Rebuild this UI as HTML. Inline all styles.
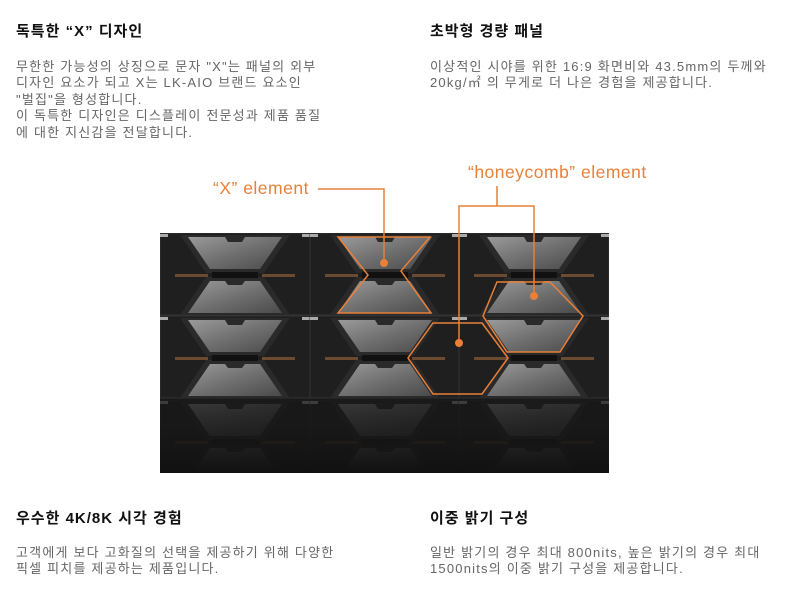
<!DOCTYPE html>
<html><head><meta charset="utf-8"><style>
body{margin:0;width:799px;height:599px;background:#fff;font-family:"Liberation Sans","Noto Sans CJK KR",sans-serif;position:relative;overflow:hidden}
.h{position:absolute;font-size:15px;font-weight:bold;color:#111;letter-spacing:1px}
.p{position:absolute;font-size:13px;color:#666;line-height:16.4px;letter-spacing:1.2px;white-space:nowrap}
.o{position:absolute;color:#e8803a;font-size:17.5px;letter-spacing:0.5px;white-space:nowrap}
</style></head><body>
<div class="h" style="left:16px;top:20px">독특한 “X” 디자인</div>
<div class="p" style="left:16px;top:59px">무한한 가능성의 상징으로 문자 "X"는 패널의 외부<br>디자인 요소가 되고 X는 LK-AIO 브랜드 요소인<br>"벌집"을 형성합니다.<br>이 독특한 디자인은 디스플레이 전문성과 제품 품질<br>에 대한 지신감을 전달합니다.</div>
<div class="h" style="left:430px;top:20px">초박형 경량 패널</div>
<div class="p" style="left:430px;top:59px">이상적인 시야를 위한 16:9 화면비와 43.5mm의 두께와<br>20kg/㎡ 의 무게로 더 나은 경험을 제공합니다.</div>
<div class="h" style="left:16px;top:507px">우수한 4K/8K 시각 경험</div>
<div class="p" style="left:16px;top:545px">고객에게 보다 고화질의 선택을 제공하기 위해 다양한<br>픽셀 피치를 제공하는 제품입니다.</div>
<div class="h" style="left:430px;top:507px">이중 밝기 구성</div>
<div class="p" style="left:430px;top:545px">일반 밝기의 경우 최대 800nits, 높은 밝기의 경우 최대<br>1500nits의 이중 밝기 구성을 제공합니다.</div>
<div class="o" style="left:213px;top:178px">“X” element</div>
<div class="o" style="left:468px;top:162px">“honeycomb” element</div>
<svg width="799" height="599" style="position:absolute;left:0;top:0">
<defs>
<clipPath id="c"><rect x="160" y="233" width="449" height="240"/></clipPath>
<linearGradient id="g" x1="0" y1="0" x2="1" y2="1"><stop offset="0" stop-color="#9a9a9a"/><stop offset="0.5" stop-color="#707070"/><stop offset="1" stop-color="#4a4a4a"/></linearGradient>
<linearGradient id="r" x1="0" y1="0" x2="0" y2="1"><stop offset="0" stop-color="#1a1a1a" stop-opacity="0.1"/><stop offset="1" stop-color="#111"/></linearGradient>
<g id="m">
<rect x="0" y="0" width="150" height="82" fill="#1f1f1f" stroke="#333" stroke-width="1"/>
<path d="M20 2 L130 2 L104 40 L46 40 Z M46 44 L104 44 L130 82 L20 82Z" fill="#2a2a2a"/>
<path d="M28 4 L65 4 L68 9 L82 9 L85 4 L122 4 L100 36 L50 36 Z" fill="url(#g)"/>
<path d="M50 48 L65 48 L68 52 L82 52 L85 48 L100 48 L122 80 L28 80 Z" fill="url(#g)"/>
<rect x="15" y="41" width="33" height="3" fill="#6a4a30"/>
<rect x="102" y="41" width="33" height="3" fill="#6a4a30"/>
<rect x="52" y="39" width="46" height="6" fill="#111"/>
<rect x="0" y="1" width="8" height="3" fill="#aaa"/><rect x="142" y="1" width="8" height="3" fill="#aaa"/>
</g>
</defs>
<g clip-path="url(#c)">
<rect x="160" y="233" width="449" height="240" fill="#151515"/>
<use href="#m" x="160" y="233"/><use href="#m" x="310" y="233"/><use href="#m" x="459" y="233"/>
<use href="#m" x="160" y="316"/><use href="#m" x="310" y="316"/><use href="#m" x="459" y="316"/>
<g opacity="0.3"><use href="#m" x="160" y="400"/><use href="#m" x="310" y="400"/><use href="#m" x="459" y="400"/></g>
<rect x="160" y="400" width="449" height="73" fill="url(#r)"/>
</g>
<g fill="none" stroke="#e8803a" stroke-width="1.5">
<path d="M338 237 L430 237 L401 271 L431 313 L338 313 L368 275 Z"/>
<path d="M497 282 L550 282 L583 316 L560 352 L507 352 L483 316 Z"/>
<path d="M433 323 L482 323 L508 358 L482 394 L433 394 L408 358 Z"/>
<path d="M318 189 L384 189 L384 263"/>
<path d="M497 186 L497 206 M459 343 L459 206 L534 206 L534 296"/>
</g>
<g fill="#e8803a"><circle cx="384" cy="263" r="4"/><circle cx="534" cy="296" r="4"/><circle cx="459" cy="343" r="4"/></g>
</svg>
</body></html>
